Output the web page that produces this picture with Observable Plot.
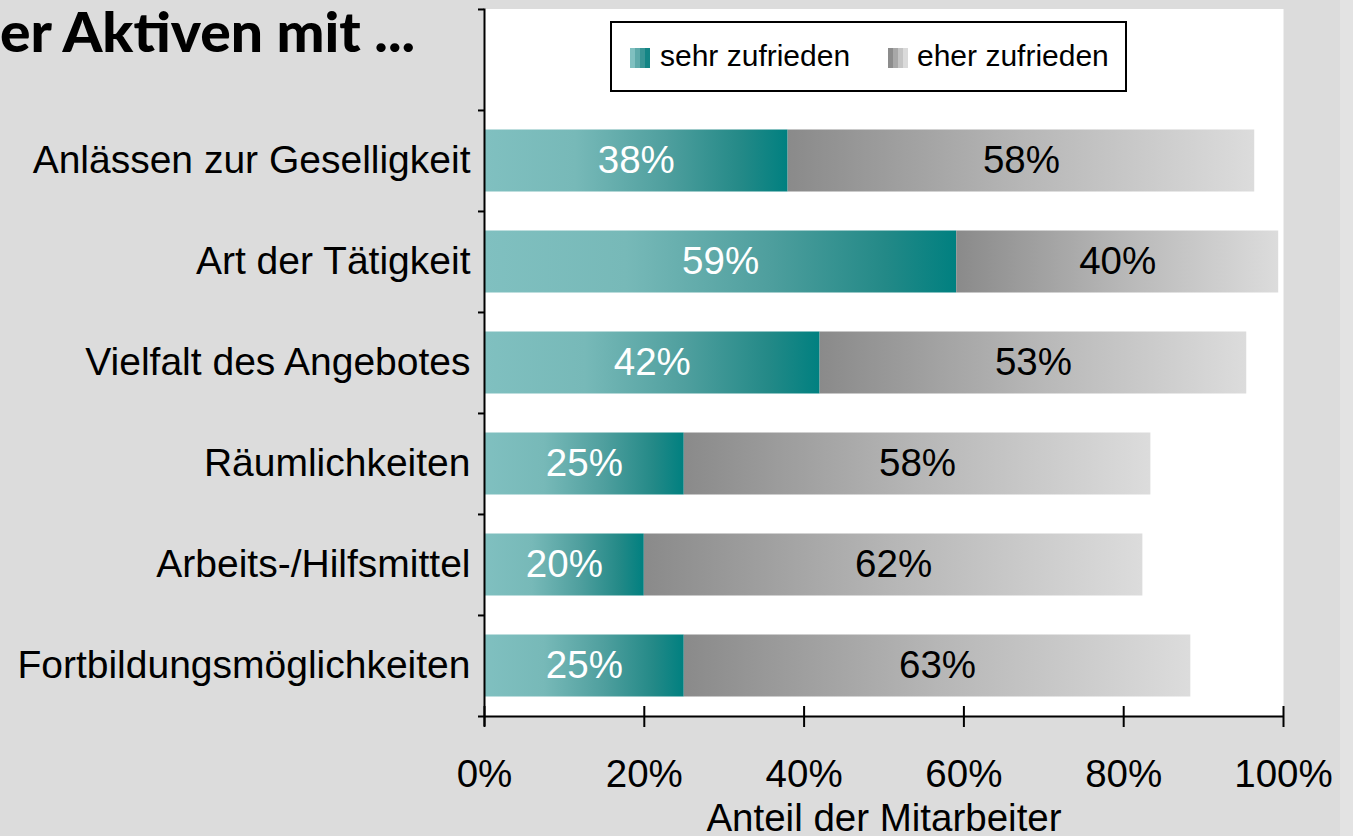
<!DOCTYPE html>
<html>
<head>
<meta charset="utf-8">
<script src="https://cdn.jsdelivr.net/npm/d3@7"></script>
<script src="https://cdn.jsdelivr.net/npm/@observablehq/plot@0.6"></script>
<style>
  html, body { margin: 0; padding: 0; }
  body { width: 1353px; height: 836px; overflow: hidden; background: #dcdcdc; font-family: "Liberation Sans", Arial, sans-serif; }
  #wrap { position: relative; width: 1353px; height: 836px; }
  #strip { position: absolute; left: 1340px; top: 0; width: 13px; height: 836px; background: #e3e3e3; }
  #chart { position: absolute; left: 0; top: 0; }
  #title { position: absolute; left: 0; top: 4px; font-family: Lato, "DejaVu Sans", sans-serif; font-weight: 900; font-size: 55px; line-height: 55px; white-space: nowrap; color: #000; transform-origin: 0 0; }
  #legendBox { position: absolute; left: 610px; top: 21px; width: 517px; height: 71px; box-sizing: border-box; border: 2px solid #000; background: #fff; }
  .sw { position: absolute; top: 48px; width: 20px; height: 20px; }
  .lt { position: absolute; top: 41px; font-size: 30px; line-height: 30px; color: #000; white-space: nowrap; }
</style>
</head>
<body>
<div id="wrap">
  <div id="strip"></div>
  <div id="chart"></div>
  <div id="title"></div>
  <div id="legendBox"></div>
</div>
<script>
// ---- data ----
const categories = ["Anlässen zur Geselligkeit", "Art der Tätigkeit", "Vielfalt des Angebotes", "Räumlichkeiten", "Arbeits-/Hilfsmittel", "Fortbildungsmöglichkeiten"];
const sehrZufrieden = [38.0, 59.1, 42.0, 25.0, 20.0, 25.0];
const eherZufrieden = [58.4, 40.3, 53.4, 58.4, 62.4, 63.4];
const seriesNames = ["sehr zufrieden", "eher zufrieden"];
const xTicks = [0, 20, 40, 60, 80, 100];
const titleText = "er Aktiven mit ...";
const xLabel = "Anteil der Mitarbeiter";

// ---- layout ----
const W = 1340, H = 836;
const mL = 484, mR = W - 1283, mT = 8.5, mB = H - 716;
const plotW = W - mL - mR;
const yDomain = ["", ...categories];
const bw = (H - mT - mB) / yDomain.length;

const segs = categories.flatMap((c, i) => [
  {cat: c, series: seriesNames[0], x1: 0, x2: sehrZufrieden[i], v: sehrZufrieden[i]},
  {cat: c, series: seriesNames[1], x1: sehrZufrieden[i], x2: sehrZufrieden[i] + eherZufrieden[i], v: eherZufrieden[i]}
]);
const sehrSegs = segs.filter(d => d.series === seriesNames[0]);
const eherSegs = segs.filter(d => d.series === seriesNames[1]);

const defsMark = () => {
  const ns = "http://www.w3.org/2000/svg";
  const defs = document.createElementNS(ns, "defs");
  defs.innerHTML = `
    <linearGradient id="gTeal" x1="0" y1="0" x2="1" y2="0">
      <stop offset="0" stop-color="#80c0c0"/>
      <stop offset="0.3" stop-color="#77b9b8"/>
      <stop offset="0.6" stop-color="#4f9f9e"/>
      <stop offset="0.85" stop-color="#238987"/>
      <stop offset="1" stop-color="#008080"/>
    </linearGradient>
    <linearGradient id="gGray" x1="0" y1="0" x2="1" y2="0">
      <stop offset="0" stop-color="#8a8a8a"/>
      <stop offset="0.5" stop-color="#b6b6b6"/>
      <stop offset="1" stop-color="#dcdcdc"/>
    </linearGradient>`;
  return defs;
};

const inset = 19.5;
const chart = Plot.plot({
  width: W, height: H,
  marginLeft: mL, marginRight: mR, marginTop: mT, marginBottom: mB,
  style: {background: "transparent", fontFamily: "'Liberation Sans', Arial, sans-serif", color: "#000", overflow: "visible"},
  x: {domain: [0, 100], axis: null},
  y: {type: "band", domain: yDomain, padding: 0, axis: null},
  marks: [
    defsMark,
    Plot.frame({fill: "white", stroke: null}),
    Plot.barX(sehrSegs, {x1: "x1", x2: "x2", y: "cat", fill: "url(#gTeal)", insetTop: inset, insetBottom: inset}),
    Plot.barX(eherSegs, {x1: "x1", x2: "x2", y: "cat", fill: "url(#gGray)", insetTop: inset, insetBottom: inset}),
    Plot.text(sehrSegs, {x: d => (d.x1 + d.x2) / 2, y: "cat", text: d => Math.round(d.v) + "%", fill: "white", fontSize: 38.5}),
    Plot.text(eherSegs, {x: d => (d.x1 + d.x2) / 2, y: "cat", text: d => Math.round(d.v) + "%", fill: "black", fontSize: 38.5}),
    // y axis line
    Plot.ruleX([0], {stroke: "black", strokeWidth: 2, insetBottom: -10}),
    // y ticks at band boundaries
    Plot.ruleY(yDomain, {y: d => d, dy: -bw / 2, stroke: "black", strokeWidth: 2, insetLeft: -6, insetRight: plotW}),
    // x axis line (bottom boundary)
    Plot.ruleY([categories[categories.length - 1]], {y: d => d, dy: bw / 2, stroke: "black", strokeWidth: 2, insetLeft: -6}),
    // x ticks crossing the axis
    Plot.tickX(xTicks, {x: d => d, stroke: "black", strokeWidth: 2, insetTop: (H - mT - mB) - 10, insetBottom: -11}),
    Plot.axisY(categories, {tickSize: 0, tickPadding: 14, fontSize: 39, label: null}),
    Plot.axisX(xTicks, {tickSize: 0, tickPadding: 43, fontSize: 38.5, tickFormat: d => d + "%",
      label: xLabel, labelAnchor: "center", labelArrow: "none", labelOffset: 114})
  ]
});
document.getElementById("chart").appendChild(chart);

// title
const t = document.getElementById("title");
t.textContent = titleText;
const tw = t.getBoundingClientRect().width;
t.style.transform = `scaleX(${415 / tw})`;

// legend
const wrap = document.getElementById("wrap");
const legendItems = [
  {name: seriesNames[0], sx: 630, tx: 660, bg: "linear-gradient(to right,#80c0c0 0 25%,#5eaaaa 25% 50%,#389595 50% 75%,#138585 75% 100%)"},
  {name: seriesNames[1], sx: 888, tx: 917, bg: "linear-gradient(to right,#8c8c8c 0 25%,#a8a8a8 25% 50%,#c4c4c4 50% 75%,#dadada 75% 100%)"}
];
legendItems.forEach(it => {
  const s = document.createElement("div");
  s.className = "sw"; s.style.left = it.sx + "px"; s.style.background = it.bg;
  wrap.appendChild(s);
  const l = document.createElement("div");
  l.className = "lt"; l.style.left = it.tx + "px"; l.textContent = it.name;
  wrap.appendChild(l);
});
</script>
</body>
</html>
